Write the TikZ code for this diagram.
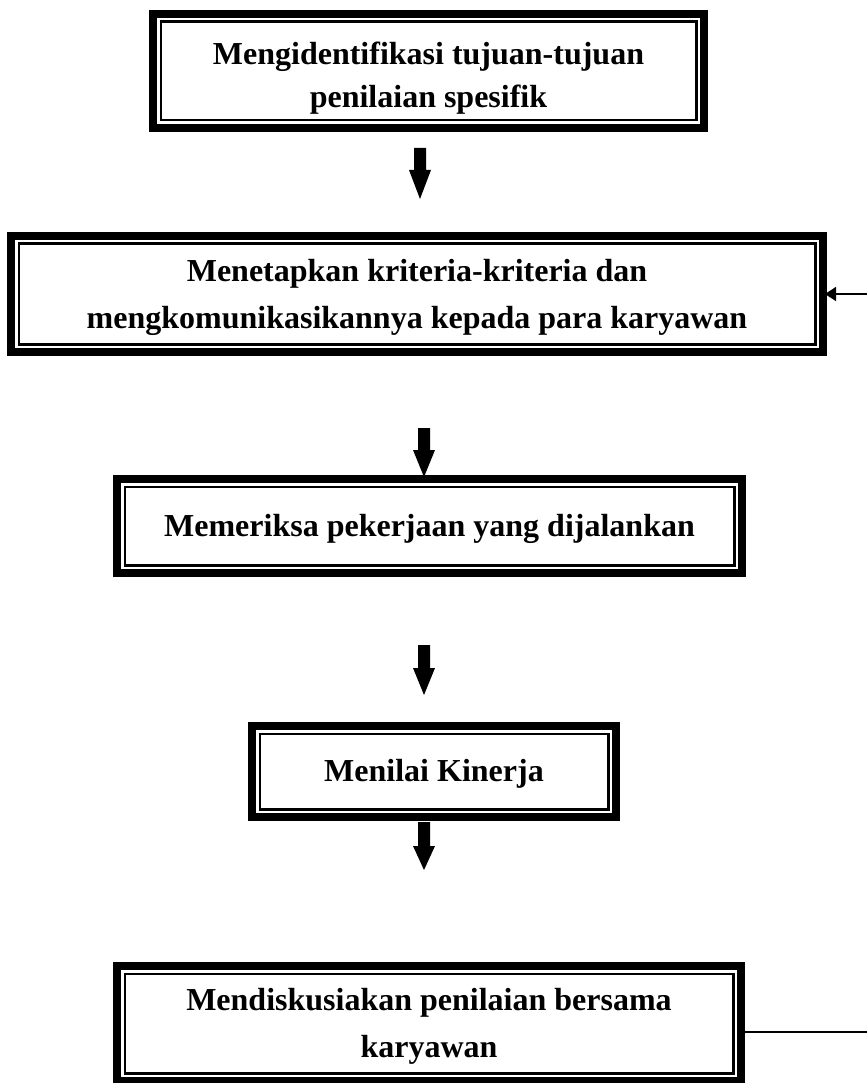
\documentclass[tikz,border=0pt]{standalone}
\usepackage{fontspec}
\setmainfont{Liberation Serif}
\usetikzlibrary{arrows.meta}
\newcommand\ttbox[8]{%
  % #1 name, #2 cx, #3 cy, #4 width, #5 height, #6 line spacing, #7 text offset, #8 text
  \node[frame, minimum width=#4pt, minimum height=#5pt] (#1) at (#2,#3) {};
  \draw[thinframe] ([shift={(7.75pt,-7.75pt)}]#1.north west)
    rectangle ([shift={(-7.75pt,7.75pt)}]#1.south east);
  \node[boxtext, font=\bfseries\fontsize{32}{#6}\selectfont, yshift=-#7pt]
    (#1-text) at (#1.center) {#8};
}
\newcommand\blockarrow[5]{%
  % #1 name, #2 x, #3 top, #4 head start, #5 tip
  \coordinate (#1) at (#2,#5);
  \fill[blockarrowfill] (#2-6,#3) -- (#2+6,#3) -- (#2+6,#4) -- (#2+11,#4)
    -- (#1) -- (#2-11,#4) -- (#2-6,#4) -- cycle;
}
\begin{document}
\begin{tikzpicture}[x=1pt,y=-1pt,
  frame/.style={draw, line width=8pt, inner sep=0pt, outer sep=0pt},
  boxtext/.style={inner sep=0pt, align=center},
  thinframe/.style={draw, line width=2.5pt},
  blockarrowfill/.style={fill=black},
  feedback/.style={line width=1.5pt}]
\useasboundingbox[fill=white] (0,0) rectangle (867,1083);

\ttbox{b1}{428.5}{71}{551}{114}{43}{7}{Mengidentifikasi tujuan-tujuan\\penilaian spesifik}
\ttbox{b2}{417}{294}{812}{116}{47}{3}{Menetapkan kriteria-kriteria dan\\mengkomunikasikannya kepada para karyawan}
\ttbox{b3}{429.5}{526}{625}{94}{47}{3}{Memeriksa pekerjaan yang dijalankan}
\ttbox{b4}{434}{771.5}{364}{91}{47}{2}{Menilai Kinerja}
\ttbox{b5}{429}{1023.5}{624}{115}{47}{3}{Mendiskusiakan penilaian bersama\\karyawan}

\blockarrow{a1}{420}{148}{170}{199}
\blockarrow{a2}{424}{428}{450}{477}
\blockarrow{a3}{424}{645}{668}{695}
\blockarrow{a4}{424}{822}{846}{870}

\coordinate (fbtop) at (867,294);
\coordinate (fbbot) at (867,1032);
\draw[feedback, -{Triangle[length=11pt,width=14pt]}] (fbtop) -- ([xshift=2pt]b2.east);
\draw[feedback] (b5.east |- fbbot) -- (fbbot);
\end{tikzpicture}
\end{document}
